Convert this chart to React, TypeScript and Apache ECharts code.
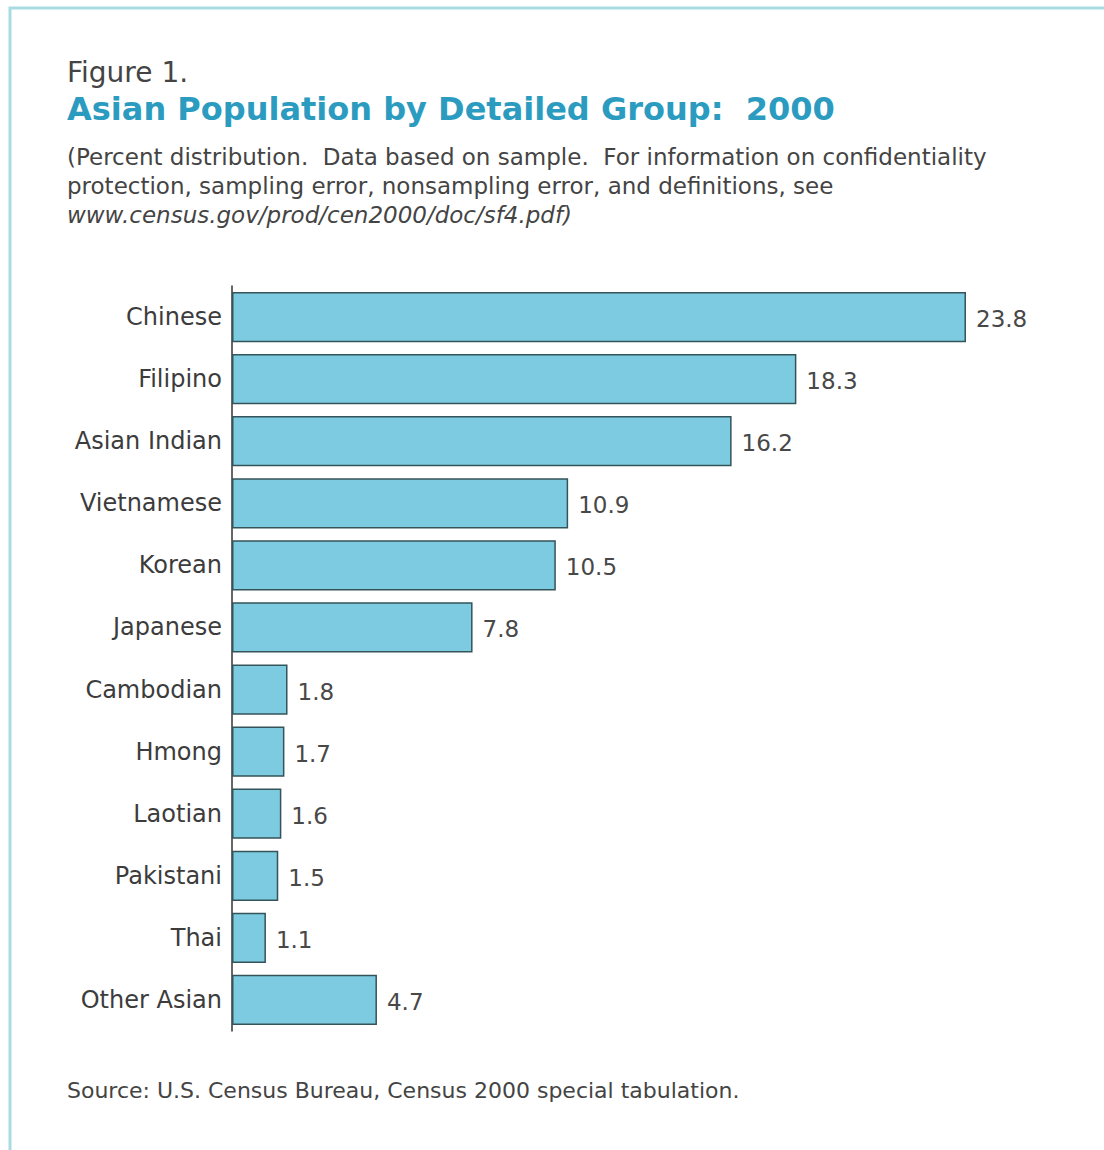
import React, { useEffect, useRef } from "react";
import * as echarts from "echarts";

const categories = [
  "Chinese",
  "Filipino",
  "Asian Indian",
  "Vietnamese",
  "Korean",
  "Japanese",
  "Cambodian",
  "Hmong",
  "Laotian",
  "Pakistani",
  "Thai",
  "Other Asian",
];
const percents = [23.8, 18.3, 16.2, 10.9, 10.5, 7.8, 1.8, 1.7, 1.6, 1.5, 1.1, 4.7];

const figureLabel = "Figure 1.";
const titleText = "Asian Population by Detailed Group:  2000";
const noteLines = [
  "(Percent distribution.  Data based on sample.  For information on confidentiality",
  "protection, sampling error, nonsampling error, and definitions, see",
];
const noteUrl = "www.census.gov/prod/cen2000/doc/sf4.pdf)";
const sourceText = "Source: U.S. Census Bureau, Census 2000 special tabulation.";

const FONT = "'DejaVu Sans', 'Open Sans', sans-serif";

export default function App() {
  const ref = useRef<HTMLDivElement>(null);

  useEffect(() => {
    document.body.style.margin = "0";
    if (!ref.current) return;
    const chart = echarts.init(ref.current, null, { renderer: "svg" });
    chart.setOption({
      animation: false,
      backgroundColor: "#ffffff",
      textStyle: { fontFamily: FONT },
      grid: { left: 232, top: 286, width: 771, height: 745, containLabel: false },
      xAxis: {
        type: "value",
        min: 0,
        max: 25,
        show: false,
      },
      yAxis: {
        type: "category",
        data: categories,
        inverse: true,
        axisLine: { show: true, lineStyle: { color: "#333333", width: 1.5 } },
        axisTick: { show: false },
        axisLabel: {
          fontSize: 24,
          color: "#3c3c3c",
          margin: 10,
          fontFamily: FONT,
        },
      },
      series: [
        {
          type: "bar",
          data: percents,
          barCategoryGap: "19%",
          itemStyle: { color: "#7ccbe0", borderColor: "#34545a", borderWidth: 1.5 },
          label: {
            show: true,
            position: "right",
            distance: 10,
            fontSize: 23,
            color: "#484848",
            fontFamily: FONT,
            offset: [0, 2],
            formatter: (p: any) => p.value.toFixed(1),
          },
        },
      ],
      graphic: [
        {
          type: "rect",
          shape: { x: 10, y: 8, width: 1100, height: 1150 },
          style: { fill: "none", stroke: "#a9dbe3", lineWidth: 3 },
          silent: true,
        },
        {
          type: "text",
          x: 67,
          y: 72,
          style: {
            text: figureLabel,
            font: `28px ${FONT}`,
            fill: "#444444",
            textVerticalAlign: "middle",
          },
        },
        {
          type: "text",
          x: 67,
          y: 109,
          style: {
            text: titleText,
            font: `bold 32px ${FONT}`,
            fill: "#2b9cbf",
            textVerticalAlign: "middle",
          },
        },
        {
          type: "text",
          x: 67,
          y: 157,
          style: {
            text: noteLines[0],
            font: `23px ${FONT}`,
            fill: "#444444",
            textVerticalAlign: "middle",
          },
        },
        {
          type: "text",
          x: 67,
          y: 186,
          style: {
            text: noteLines[1],
            font: `23px ${FONT}`,
            fill: "#444444",
            textVerticalAlign: "middle",
          },
        },
        {
          type: "text",
          x: 67,
          y: 215,
          style: {
            text: noteUrl,
            font: `italic 23px ${FONT}`,
            fill: "#444444",
            textVerticalAlign: "middle",
          },
        },
        {
          type: "text",
          x: 67,
          y: 1090,
          style: {
            text: sourceText,
            font: `22px ${FONT}`,
            fill: "#444444",
            textVerticalAlign: "middle",
          },
        },
      ],
    });
    return () => chart.dispose();
  }, []);

  return <div ref={ref} style={{ width: 1104, height: 1150 }} />;
}
